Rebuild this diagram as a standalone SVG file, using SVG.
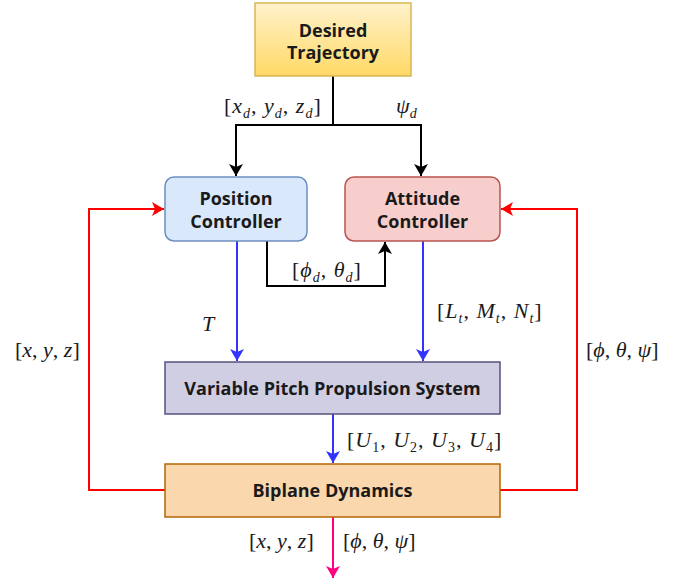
<svg xmlns="http://www.w3.org/2000/svg" width="679" height="583" viewBox="0 0 679 583">
<style>
.lbl{font-family:"Open Sans","Liberation Sans",sans-serif;font-weight:700;font-size:18px;fill:#1a1a1a;text-anchor:middle}
.m{font-family:"Liberation Serif","DejaVu Serif",serif;font-size:22px;fill:#1a1a1a}
.ls{letter-spacing:1px}
.i{font-style:italic}
.s{font-size:14px}
.c{fill:none;stroke-width:2}
</style>
<defs>
<linearGradient id="gy" x1="0" y1="0" x2="0" y2="1">
<stop offset="0" stop-color="#fff2cc"/>
<stop offset="1" stop-color="#ffd966"/>
</linearGradient>
<marker id="ak" markerUnits="userSpaceOnUse" markerWidth="14" markerHeight="14" refX="12" refY="7" orient="auto" viewBox="0 0 14 14"><path d="M0,0 L12,7 L0,14 L3,7 Z" fill="#000"/></marker>
<marker id="ab" markerUnits="userSpaceOnUse" markerWidth="14" markerHeight="14" refX="12" refY="7" orient="auto" viewBox="0 0 14 14"><path d="M0,0 L12,7 L0,14 L3,7 Z" fill="#3333ff"/></marker>
<marker id="ar" markerUnits="userSpaceOnUse" markerWidth="14" markerHeight="14" refX="12" refY="7" orient="auto" viewBox="0 0 14 14"><path d="M0,0 L12,7 L0,14 L3,7 Z" fill="#ff0000"/></marker>
<marker id="ap" markerUnits="userSpaceOnUse" markerWidth="14" markerHeight="14" refX="12" refY="7" orient="auto" viewBox="0 0 14 14"><path d="M0,0 L12,7 L0,14 L3,7 Z" fill="#ff0080"/></marker>
</defs>
<rect width="679" height="583" fill="#ffffff"/>
<g id="connectors">
<path class="c" stroke="#000" d="M333,76 V125"/>
<path class="c" stroke="#000" d="M333,125 H236 V176" marker-end="url(#ak)"/>
<path class="c" stroke="#000" d="M333,125 H421 V176" marker-end="url(#ak)"/>
<path class="c" stroke="#000" d="M267,241 V286 H385 V242" marker-end="url(#ak)"/>
<path class="c" stroke="#3333ff" d="M237,241 V361" marker-end="url(#ab)"/>
<path class="c" stroke="#3333ff" d="M423,241 V361" marker-end="url(#ab)"/>
<path class="c" stroke="#3333ff" d="M333,414 V463" marker-end="url(#ab)"/>
<path class="c" stroke="#ff0000" d="M165,490 H89 V209 H164" marker-end="url(#ar)"/>
<path class="c" stroke="#ff0000" d="M500,490 H577 V209 H501" marker-end="url(#ar)"/>
<path class="c" stroke="#ff0080" d="M333,517 V578" marker-end="url(#ap)"/>
</g>
<g id="desired-trajectory">
<rect x="255" y="3" width="156" height="73" fill="url(#gy)" stroke="#d6b656" stroke-width="1.5"/>
<text class="lbl" x="333" y="37">Desired</text>
<text class="lbl" x="333" y="59">Trajectory</text>
</g>
<g id="position-controller">
<rect x="165" y="177" width="142" height="64" rx="9" fill="#dae8fc" stroke="#6c8ebf" stroke-width="1.5"/>
<text class="lbl" x="236" y="205">Position</text>
<text class="lbl" x="236" y="228">Controller</text>
</g>
<g id="attitude-controller">
<rect x="345" y="177" width="155" height="64" rx="9" fill="#f8cecc" stroke="#b85450" stroke-width="1.5"/>
<text class="lbl" x="422.5" y="205">Attitude</text>
<text class="lbl" x="422.5" y="228">Controller</text>
</g>
<g id="propulsion">
<rect x="165" y="362" width="335" height="52" fill="#d0cee2" stroke="#56517e" stroke-width="1.5"/>
<text class="lbl" x="332.5" y="395">Variable Pitch Propulsion System</text>
</g>
<g id="biplane-dynamics">
<rect x="165" y="464" width="335" height="53" fill="#fad7ac" stroke="#b46504" stroke-width="1.5"/>
<text class="lbl" x="332.5" y="497">Biplane Dynamics</text>
</g>
<g id="labels">
<text class="m ls" x="224" y="113">[<tspan class="i">x</tspan><tspan class="i s" dy="5">d</tspan><tspan dy="-5">, </tspan><tspan class="i">y</tspan><tspan class="i s" dy="5">d</tspan><tspan dy="-5">, </tspan><tspan class="i">z</tspan><tspan class="i s" dy="5">d</tspan><tspan dy="-5">]</tspan></text>
<text class="m" x="396" y="113"><tspan class="i">ψ</tspan><tspan class="i s" dy="5">d</tspan></text>
<text class="m ls" x="292" y="277">[<tspan class="i">ϕ</tspan><tspan class="i s" dy="5">d</tspan><tspan dy="-5">, </tspan><tspan class="i">θ</tspan><tspan class="i s" dy="5">d</tspan><tspan dy="-5">]</tspan></text>
<text class="m i" x="202" y="331">T</text>
<text class="m ls" x="437" y="318">[<tspan class="i">L</tspan><tspan class="i s" dy="5">t</tspan><tspan dy="-5">, </tspan><tspan class="i">M</tspan><tspan class="i s" dy="5">t</tspan><tspan dy="-5">, </tspan><tspan class="i">N</tspan><tspan class="i s" dy="5">t</tspan><tspan dy="-5">]</tspan></text>
<text class="m ls" x="347" y="447">[<tspan class="i">U</tspan><tspan class="s" dy="5">1</tspan><tspan dy="-5">, </tspan><tspan class="i">U</tspan><tspan class="s" dy="5">2</tspan><tspan dy="-5">, </tspan><tspan class="i">U</tspan><tspan class="s" dy="5">3</tspan><tspan dy="-5">, </tspan><tspan class="i">U</tspan><tspan class="s" dy="5">4</tspan><tspan dy="-5">]</tspan></text>
<text class="m" x="15" y="357">[<tspan class="i">x</tspan>, <tspan class="i">y</tspan>, <tspan class="i">z</tspan>]</text>
<text class="m" x="586" y="357">[<tspan class="i">ϕ</tspan>, <tspan class="i">θ</tspan>, <tspan class="i">ψ</tspan>]</text>
<text class="m" x="249" y="548">[<tspan class="i">x</tspan>, <tspan class="i">y</tspan>, <tspan class="i">z</tspan>]</text>
<text class="m" x="343" y="548">[<tspan class="i">ϕ</tspan>, <tspan class="i">θ</tspan>, <tspan class="i">ψ</tspan>]</text>
</g>
</svg>
